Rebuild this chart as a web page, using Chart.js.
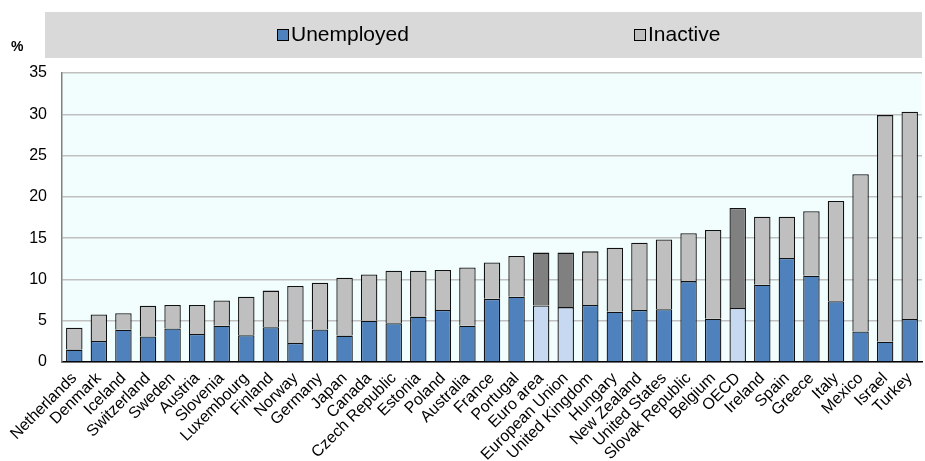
<!DOCTYPE html>
<html>
<head>
<meta charset="utf-8">
<script src="https://cdn.jsdelivr.net/npm/chart.js@4"></script>
<style>
  html, body { margin: 0; padding: 0; background: #fff; }
  #wrap { width: 925px; height: 461px; position: relative; }
</style>
</head>
<body>
<div id="wrap"><canvas id="myChart" width="925" height="461"></canvas></div>
<script>
// countries, sorted by total share
let countries = ["Netherlands", "Denmark", "Iceland", "Switzerland", "Sweden", "Austria", "Slovenia",
  "Luxembourg", "Finland", "Norway", "Germany", "Japan", "Canada", "Czech Republic", "Estonia", "Poland",
  "Australia", "France", "Portugal", "Euro area", "European Union", "United Kingdom", "Hungary",
  "New Zealand", "United States", "Slovak Republic", "Belgium", "OECD", "Ireland", "Spain", "Greece",
  "Italy", "Mexico", "Israel", "Turkey"];

let unemployed = [1.5, 2.55, 3.9, 3.1, 4.05, 3.4, 4.4, 3.25, 4.2, 2.3, 3.95, 3.2, 5.0, 4.7, 5.5, 6.3,
  4.4, 7.65, 7.9, 6.85, 6.65, 6.9, 6.1, 6.3, 6.4, 9.8, 5.25, 6.55, 9.35, 12.6, 10.45, 7.35, 3.7, 2.45, 5.2];

let totals = [4.15, 5.75, 5.9, 6.8, 6.9, 6.9, 7.45, 7.9, 8.65, 9.2, 9.6, 10.2, 10.6, 11.05, 11.05, 11.15,
  11.45, 12.05, 12.85, 13.25, 13.25, 13.4, 13.85, 14.45, 14.85, 15.6, 16.0, 18.65, 17.6, 17.6, 18.25,
  19.5, 22.75, 29.9, 30.3];

let inactive = totals.map((t, i) => Math.round((t - unemployed[i]) * 100) / 100);

let aggregates = ["Euro area", "European Union", "OECD"];
let yTicks = [0, 5, 10, 15, 20, 25, 30, 35];

let blueCol = countries.map(c => aggregates.includes(c) ? "#c6d9f1" : "#4f81bd");
let grayCol = countries.map(c => aggregates.includes(c) ? "#808080" : "#bfbfbf");

const narrow = "'Liberation Sans Narrow', 'Arial Narrow', 'Liberation Sans', Arial, sans-serif";
const sans = "'Liberation Sans', Arial, sans-serif";

// legend band, % label and plot background
const extras = {
  id: "extras",
  beforeDraw(chart) {
    const ctx = chart.ctx, a = chart.chartArea;
    ctx.save();
    ctx.fillStyle = "#d9d9d9";
    ctx.fillRect(45, 12, 922 - 45, 46);
    ctx.fillStyle = "#f2fefe";
    ctx.fillRect(a.left, a.top, a.right - a.left, a.bottom - a.top);
    ctx.restore();
  },
  afterDraw(chart) {
    const ctx = chart.ctx;
    ctx.save();
    ctx.font = "bold 14px " + sans;
    ctx.fillStyle = "#000";
    ctx.textBaseline = "middle";
    ctx.fillText("%", 11, 47);
    let items = [["Unemployed", "#4f81bd", 277], ["Inactive", "#bfbfbf", 634]];
    ctx.font = "21px " + narrow;
    for (let it of items) {
      ctx.fillStyle = it[1];
      ctx.fillRect(it[2], 29, 11, 11);
      ctx.strokeStyle = "#000";
      ctx.lineWidth = 1;
      ctx.strokeRect(it[2] + 0.5, 29.5, 11, 11);
      ctx.fillStyle = "#000";
      ctx.fillText(it[0], it[2] + 14, 35);
    }
    ctx.restore();
  }
};

new Chart("myChart", {
  type: "bar",
  data: {
    labels: countries,
    datasets: [{
      label: "Unemployed",
      data: unemployed,
      backgroundColor: blueCol,
      borderColor: "#111",
      borderWidth: 1.3
    }, {
      label: "Inactive",
      data: inactive,
      backgroundColor: grayCol,
      borderColor: "#111",
      borderWidth: 1.3
    }]
  },
  options: {
    responsive: false,
    animation: false,
    devicePixelRatio: 1,
    layout: { padding: { top: 73, right: 3, left: 8, bottom: 0 } },
    datasets: { bar: { categoryPercentage: 1, barPercentage: 0.67 } },
    plugins: { legend: { display: false }, tooltip: { enabled: false } },
    scales: {
      x: {
        stacked: true,
        grid: { display: false, drawTicks: false },
        border: { color: "#000", width: 1.5 },
        ticks: {
          autoSkip: false, minRotation: 45, maxRotation: 45, padding: 7,
          color: "#000", font: { family: sans, size: 16 }
        },
        afterFit(scale) { scale.height = 99; scale.paddingRight = 0; }
      },
      y: {
        stacked: true,
        min: 0, max: 35,
        afterBuildTicks(scale) { scale.ticks = yTicks.map(v => ({ value: v })); },
        grid: { color: "#c0c0c0", lineWidth: 1.5, drawTicks: false },
        border: { color: "#808080", width: 1.5 },
        ticks: { padding: 15, color: "#000", font: { family: sans, size: 16 } },
        afterFit(scale) { scale.width = 54; }
      }
    }
  },
  plugins: [extras]
});
</script>
</body>
</html>
